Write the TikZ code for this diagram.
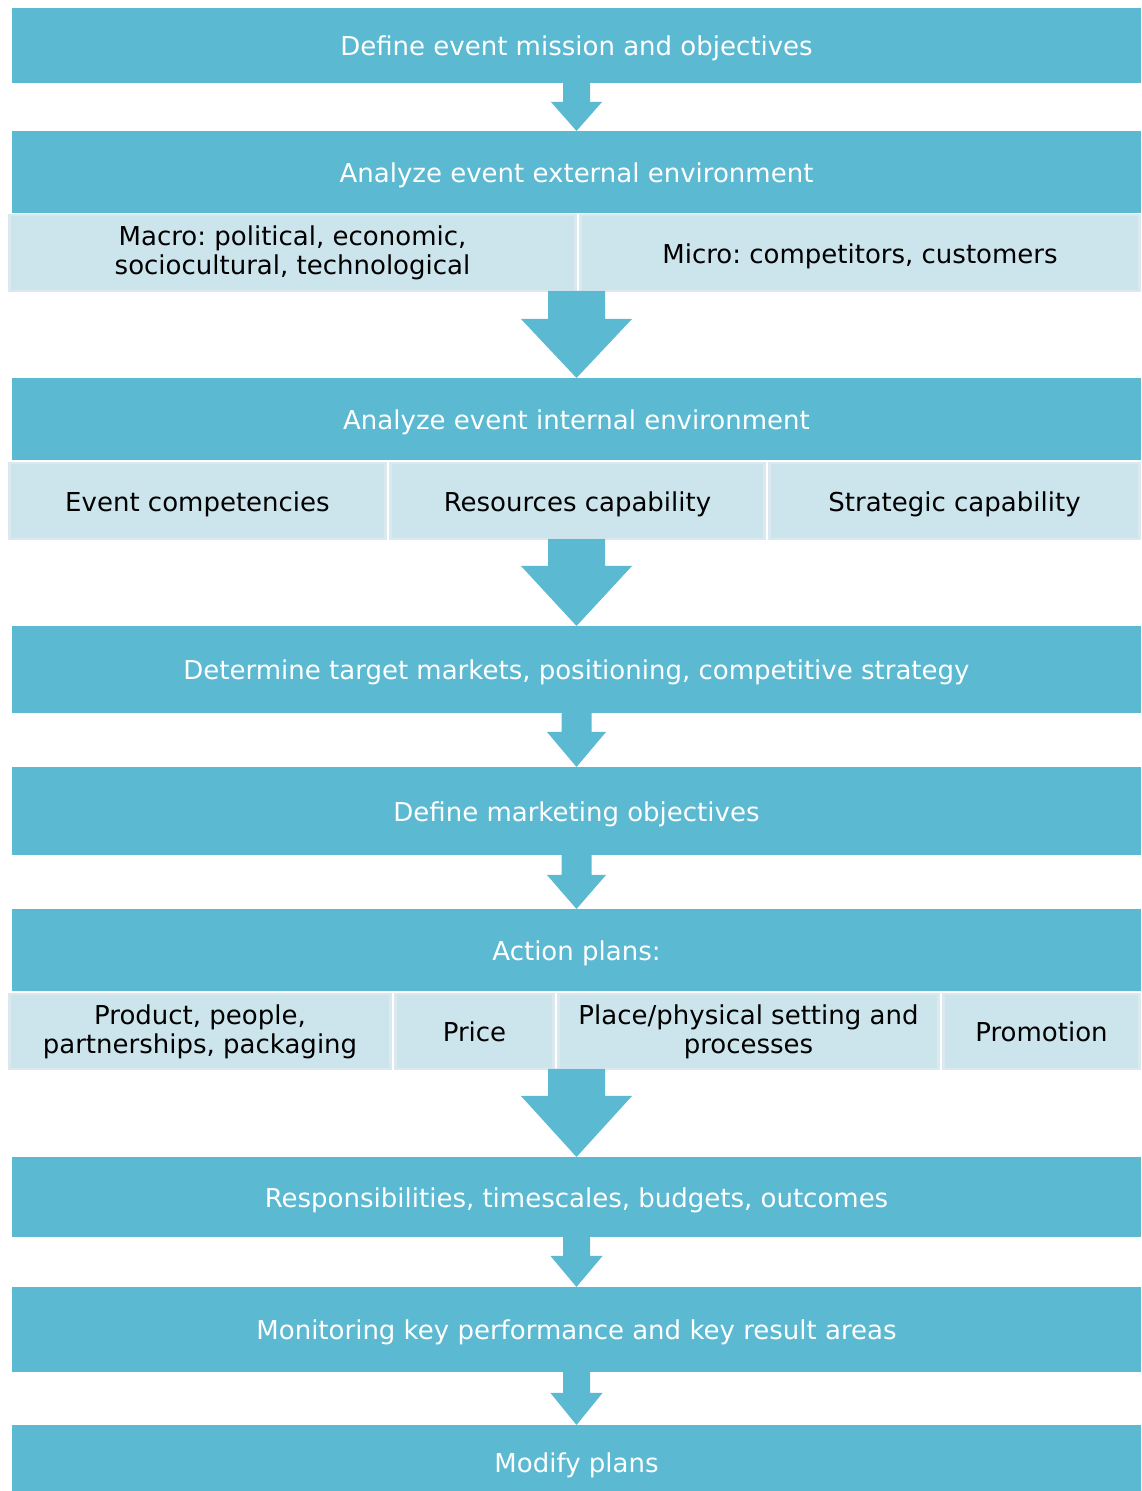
\documentclass[tikz,border=0pt]{standalone}
\usepackage{fontspec}
\setmainfont{DejaVu Sans}
\usetikzlibrary{calc}
\frenchspacing
\definecolor{boxblue}{HTML}{5BB9D1}
\definecolor{cellblue}{HTML}{CCE4EC}
\definecolor{cellline}{HTML}{DAE9EF}
\newcommand\flowarrow[5]{%
  \fill[boxblue] let \p1=(#1), \p2=(#2) in
    (\x1-#3pt,\y1) -- (\x1-#3pt,\y2+#5pt) -- (\x1-#4pt,\y2+#5pt) -- (\x1,\y2)
    -- (\x1+#4pt,\y2+#5pt) -- (\x1+#3pt,\y2+#5pt) -- (\x1+#3pt,\y1) -- cycle;}
\begin{document}
\begin{tikzpicture}[x=1pt,y=1pt,
  oneline/.style={text height=21pt,text depth=0pt},
  mainbox/.style={oneline,fill=boxblue,text=white,inner sep=0,outer sep=0,minimum width=1129pt,
    font=\fontsize{26}{29}\selectfont},
  cell/.style={fill=cellblue,draw=cellline,line width=2.5pt,text=black,align=center,
    inner sep=0,outer sep=0,font=\fontsize{26}{29}\selectfont}]
\useasboundingbox (0,0) rectangle (1141,1491);
\node[mainbox,minimum height=75pt] (mission) at (576.5,1445.5) {Define event mission and objectives};
\node[mainbox,minimum height=82pt] (external) at (576.5,1319) {Analyze event external environment};
\node[cell,minimum width=566pt,minimum height=76pt] (macro) at (292.5,1238) {Macro: political, economic,\\sociocultural, technological};
\node[cell,oneline,minimum width=559pt,minimum height=76pt] (micro) at (860,1238) {Micro: competitors, customers};
\node[mainbox,minimum height=82pt] (internal) at (576.5,1072) {Analyze event internal environment};
\node[cell,oneline,minimum width=376pt,minimum height=76pt] (compet) at (197.5,990) {Event competencies};
\node[cell,oneline,minimum width=374pt,minimum height=76pt] (resource) at (577.5,990) {Resources capability};
\node[cell,oneline,minimum width=370pt,minimum height=76pt] (strategic) at (954.5,990) {Strategic capability};
\node[mainbox,minimum height=87pt] (target) at (576.5,821.5) {Determine target markets, positioning, competitive strategy};
\node[mainbox,minimum height=88pt] (objectives) at (576.5,680) {Define marketing objectives};
\node[mainbox,minimum height=82pt] (action) at (576.5,541) {Action plans:};
\node[cell,minimum width=381pt,minimum height=75pt] (product) at (200,459.5) {Product, people,\\partnerships, packaging};
\node[cell,oneline,minimum width=158pt,minimum height=75pt] (price) at (474.5,459.5) {Price};
\node[cell,minimum width=380pt,minimum height=75pt] (place) at (748.5,459.5) {Place/physical setting and\\processes};
\node[cell,oneline,minimum width=196pt,minimum height=75pt] (promotion) at (1041.5,459.5) {Promotion};
\node[mainbox,minimum height=80pt] (respons) at (576.5,294) {Responsibilities, timescales, budgets, outcomes};
\node[mainbox,minimum height=85pt] (monitor) at (576.5,161.5) {Monitoring key performance and key result areas};
\node[mainbox,minimum height=74pt] (modify) at (576.5,29) {Modify plans};
\flowarrow{mission.south}{external.north}{13.5}{25.5}{29}
\flowarrow{external |- macro.south}{internal.north}{28.5}{55.5}{59}
\flowarrow{internal |- compet.south}{target.north}{28.5}{55.5}{60}
\flowarrow{target.south}{objectives.north}{15}{29.5}{35}
\flowarrow{objectives.south}{action.north}{15}{29.5}{34}
\flowarrow{action |- product.south}{respons.north}{28.5}{55.5}{61}
\flowarrow{respons.south}{monitor.north}{13.5}{26}{31}
\flowarrow{monitor.south}{modify.north}{13.5}{26}{32}
\end{tikzpicture}
\end{document}
